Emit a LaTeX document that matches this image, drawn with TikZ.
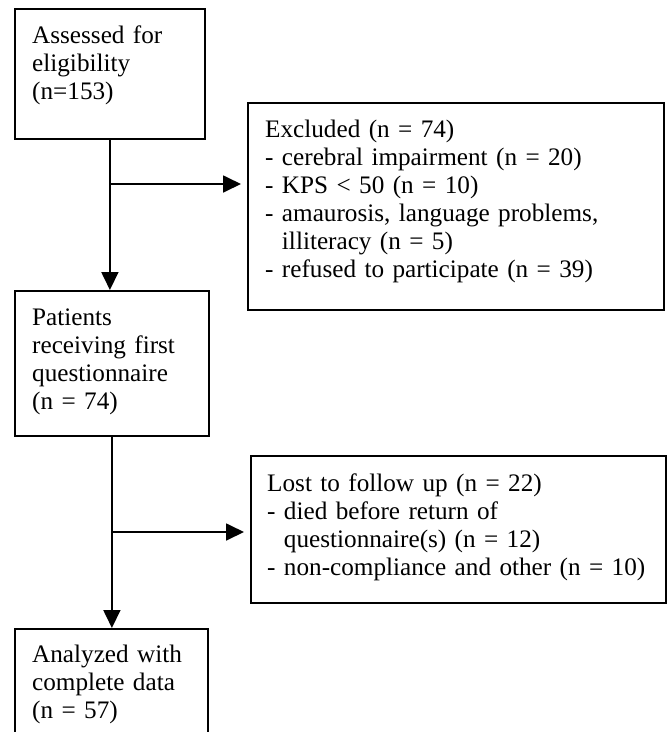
\documentclass[tikz,border=0pt]{standalone}
\usepackage{fontspec}
\setmainfont{Liberation Serif}
\usetikzlibrary{arrows.meta,calc}
\begin{document}
\begin{tikzpicture}[x=1pt,y=-1pt,
  box/.style={draw, line width=1.8pt, inner sep=0pt, anchor=north west},
  txt/.style={anchor=base west, inner sep=0pt, align=left, text width=400pt,
    font=\fontsize{25.2}{28}\selectfont},
  arr/.style={line width=1.8pt, -{Triangle[length=18pt,width=17pt]}}]
\fill[white] (0,0) rectangle (670,732);
\useasboundingbox (0,0) rectangle (670,732);
\clip (0,0) rectangle (670,732);
% boxes
\node[box, minimum width=190pt, minimum height=130pt] (b1) at (14,8) {};
\node[txt] (t1) at (32,43) {Assessed for\\eligibility\\(n=153)};
\node[box, minimum width=416pt, minimum height=207pt] (ex) at (247,102) {};
\node[txt] (tex) at (265,137) {Excluded (n = 74)\\- cerebral impairment (n = 20)\\- KPS < 50 (n = 10)\\- amaurosis, language problems,\\\hphantom{-\ }illiteracy (n = 5)\\- refused to participate (n = 39)};
\node[box, minimum width=194pt, minimum height=145pt] (b2) at (14,290) {};
\node[txt] (t2) at (32,325) {Patients\\receiving first\\questionnaire\\(n = 74)};
\node[box, minimum width=415pt, minimum height=147pt] (lost) at (250,455) {};
\node[txt] (tlost) at (267,491) {Lost to follow up (n = 22)\\- died before return of\\\hphantom{-\ }questionnaire(s) (n = 12)\\- non-compliance and other (n = 10)};
\node[box, minimum width=193pt, minimum height=160pt] (b3) at (14,628) {};
\node[txt] (t3) at (32,662) {Analyzed with\\complete data\\(n = 57)};
% connectors
\coordinate (y1) at (0,184);
\coordinate (y2) at (0,532);
\coordinate (j1) at (b1.south |- y1);
\coordinate (j2) at (b2.south |- y2);
\draw[arr] (b1.south) -- (b1.south |- b2.north);
\draw[arr, shorten >=6pt] (j1) -- (j1 -| ex.west);
\draw[arr] (b2.south) -- (b2.south |- b3.north);
\draw[arr, shorten >=6pt] (j2) -- (j2 -| lost.west);
\end{tikzpicture}
\end{document}
